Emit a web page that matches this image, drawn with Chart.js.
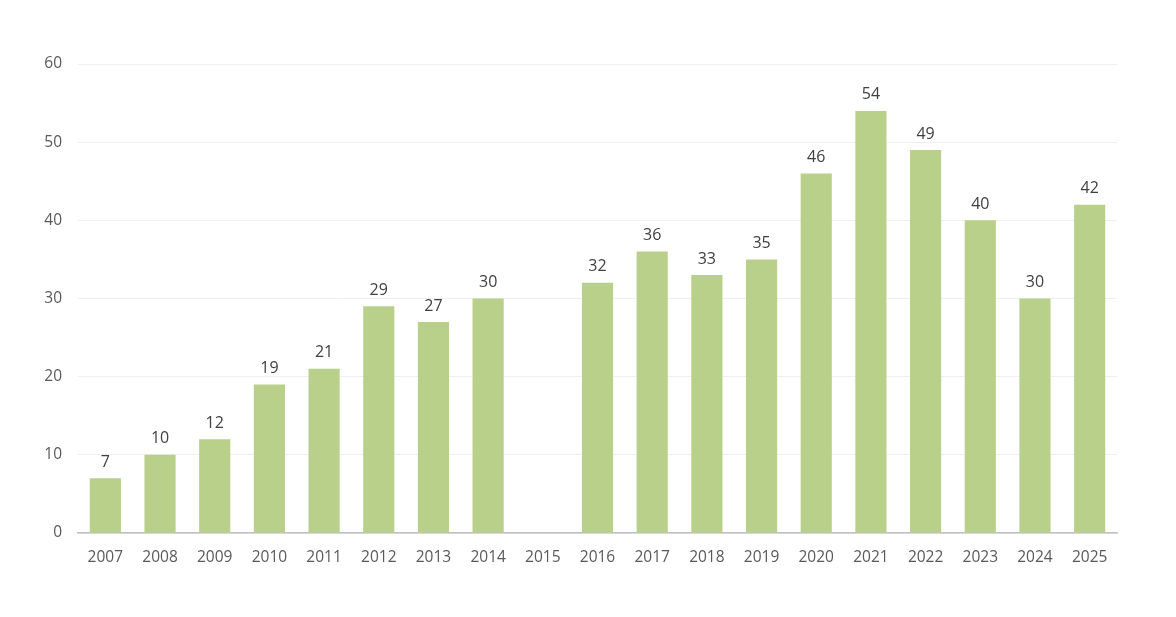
<!DOCTYPE html>
<html>
<head>
<meta charset="utf-8">
<script src="https://cdn.jsdelivr.net/npm/chart.js@4/dist/chart.umd.min.js"></script>
<style>
  html, body { margin: 0; padding: 0; background: #fff; }
  #wrap { width: 1176px; height: 617px; }
</style>
</head>
<body>
<div id="wrap"><canvas id="myChart"></canvas></div>
<script>
const years = ['2007','2008','2009','2010','2011','2012','2013','2014','2015','2016','2017','2018','2019','2020','2021','2022','2023','2024','2025'];
const counts = [7, 10, 12, 19, 21, 29, 27, 30, null, 32, 36, 33, 35, 46, 54, 49, 40, 30, 42];
const yTicks = [0, 10, 20, 30, 40, 50, 60];

const textColor = '#595959';
const fontFamily = '"Open Sans", "Noto Sans", sans-serif';

// labels above bars
const barLabels = {
  id: 'barLabels',
  afterDatasetsDraw(chart) {
    const ctx = chart.ctx;
    const meta = chart.getDatasetMeta(0);
    ctx.save();
    ctx.fillStyle = '#404040';
    ctx.font = '16px ' + fontFamily;
    ctx.textAlign = 'center';
    ctx.textBaseline = 'bottom';
    meta.data.forEach(function (bar, i) {
      const v = counts[i];
      if (v === null) return;
      ctx.fillText(String(v), bar.x, bar.y - 8);
    });
    ctx.restore();
  }
};

new Chart(document.getElementById('myChart'), {
  type: 'bar',
  data: {
    labels: years,
    datasets: [{
      data: counts,
      backgroundColor: '#b9d08b',
      categoryPercentage: 1,
      barPercentage: 0.57
    }]
  },
  options: {
    responsive: true,
    maintainAspectRatio: false,
    animation: false,
    layout: { padding: { top: 64, right: 59, bottom: 44, left: 0 } },
    plugins: {
      legend: { display: false },
      tooltip: { enabled: false }
    },
    scales: {
      x: {
        grid: { display: false },
        border: { display: true, color: '#bfbfbf', width: 1.5 },
        ticks: { color: textColor, font: { family: fontFamily, size: 15.5 }, padding: 7, maxRotation: 0 },
        afterFit(scale) { scale.height = 40; }
      },
      y: {
        min: 0,
        max: 60,
        afterBuildTicks(scale) { scale.ticks = yTicks.map(v => ({ value: v })); },
        grid: { color: '#efefef', drawTicks: false },
        border: { display: false },
        ticks: { color: textColor, font: { family: fontFamily, size: 15.5 }, padding: 16 },
        afterFit(scale) { scale.width = 78; }
      }
    }
  },
  plugins: [barLabels]
});
</script>
</body>
</html>
